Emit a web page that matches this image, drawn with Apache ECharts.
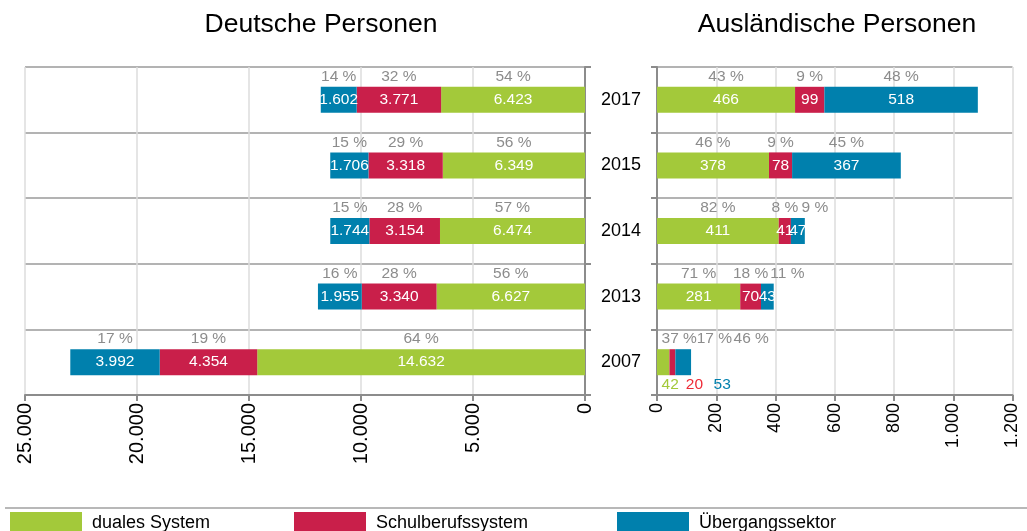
<!DOCTYPE html>
<html>
<head>
<meta charset="utf-8">
<script src="https://cdn.jsdelivr.net/npm/echarts@6/dist/echarts.min.js"></script>
<style>
  html, body { margin: 0; padding: 0; background: #fff; }
  #chart { width: 1027px; height: 531px; }
</style>
</head>
<body>
<div id="chart"></div>
<script>
// Jahre (von oben nach unten)
const years = ['2017', '2015', '2014', '2013', '2007'];

// Deutsche Personen: absolute Werte
const deDual = [6423, 6349, 6474, 6627, 14632];
const deSchul = [3771, 3318, 3154, 3340, 4354];
const deUeberg = [1602, 1706, 1744, 1955, 3992];
// Deutsche Personen: Anteile in Prozent
const dePctDual = [54, 56, 57, 56, 64];
const dePctSchul = [32, 29, 28, 28, 19];
const dePctUeberg = [14, 15, 15, 16, 17];

// Ausländische Personen: absolute Werte
const auDual = [466, 378, 411, 281, 42];
const auSchul = [99, 78, 41, 70, 20];
const auUeberg = [518, 367, 47, 43, 53];
// Ausländische Personen: Anteile in Prozent
const auPctDual = [43, 46, 82, 71, 37];
const auPctSchul = [9, 9, 8, 18, 17];
const auPctUeberg = [48, 45, 9, 11, 46];

// Achsen
const deAxisMax = 25000, deAxisStep = 5000;
const auAxisMax = 1200, auAxisStep = 200;

const sectorNames = ['duales System', 'Schulberufssystem', 'Übergangssektor'];
const sectorColors = ['#a3c93a', '#c91f4a', '#0080ad'];
const smallLabelColors = ['#a3c93a', '#ee2a36', '#0080ad'];

const FONT = '"Liberation Sans", Arial, sans-serif';

function fmt(n) {
  return String(n).replace(/\B(?=(\d{3})+(?!\d))/g, '.');
}

// Verschiebungen von Prozentangaben, die sonst überlappen würden
// (Sektor -> Zeile -> horizontale Verschiebung in px)
const pctNudge = {
  0: { 4: 16 },
  1: { 4: 42 },
  2: { 2: 17, 3: 20, 4: 68 }
};
// Wertangaben 2007 (Ausländische Personen) stehen unter dem Balken
const smallValueNudge = [7, 22, 39];

function valueSeries(panel, grid, k, values) {
  return {
    type: 'bar',
    name: sectorNames[k],
    xAxisIndex: grid, yAxisIndex: grid,
    stack: panel + 'v',
    barWidth: 26,
    barGap: '-100%',
    itemStyle: { color: sectorColors[k] },
    label: {
      show: true, position: 'inside', color: '#fff',
      fontSize: 15.5, fontFamily: FONT,
      formatter: p => fmt(p.value)
    },
    data: values.map((v, i) => {
      if (panel === 'au' && i === 4) {
        return {
          value: v,
          label: {
            position: 'bottom', distance: 2, color: smallLabelColors[k],
            offset: [smallValueNudge[k], 0]
          }
        };
      }
      return v;
    })
  };
}

function pctSeries(panel, grid, k, values, pcts) {
  return {
    type: 'bar',
    name: 'Anteil ' + sectorNames[k],
    xAxisIndex: grid, yAxisIndex: grid,
    stack: panel + 'p',
    barWidth: 26,
    barGap: '-100%',
    silent: true,
    itemStyle: { color: 'rgba(0,0,0,0)' },
    label: {
      show: true, position: 'top', distance: 2, color: '#8c8c8c',
      fontSize: 15.5, fontFamily: FONT,
      formatter: p => pcts[p.dataIndex] + ' %'
    },
    data: values.map((v, i) => {
      const nudge = panel === 'au' && pctNudge[k][i];
      if (nudge) return { value: v, label: { offset: [nudge, 0] } };
      return v;
    })
  };
}

const gridLine = { show: true, lineStyle: { color: '#dcdcdc', width: 1.5 } };
const rowLine = { show: true, lineStyle: { color: '#9a9a9a', width: 1.5 } };
const axisLine = { show: true, lineStyle: { color: '#8c8c8c', width: 2 } };
const axisTick = { show: true, length: 6, lineStyle: { color: '#8c8c8c', width: 2 } };

const option = {
  animation: false,
  backgroundColor: '#fff',
  textStyle: { fontFamily: FONT },
  title: [
    { text: 'Deutsche Personen', left: 316, top: 6, textAlign: 'center',
      textStyle: { fontSize: 26.5, fontWeight: 'normal', color: '#000', fontFamily: FONT } },
    { text: 'Ausländische Personen', left: 832, top: 6, textAlign: 'center',
      textStyle: { fontSize: 26.5, fontWeight: 'normal', color: '#000', fontFamily: FONT } }
  ],
  grid: [
    { left: 25, top: 67, width: 560, height: 328, containLabel: false },
    { left: 657, top: 67, width: 355.5, height: 328, containLabel: false }
  ],
  xAxis: [
    {
      gridIndex: 0, type: 'value', inverse: true, min: 0, max: deAxisMax, interval: deAxisStep,
      axisLine: axisLine, axisTick: axisTick, splitLine: gridLine,
      axisLabel: { rotate: 90, margin: 8, color: '#000', fontSize: 20, fontFamily: FONT, formatter: v => fmt(v) }
    },
    {
      gridIndex: 1, type: 'value', min: 0, max: auAxisMax, interval: auAxisStep,
      axisLine: axisLine, axisTick: axisTick, splitLine: gridLine,
      axisLabel: { rotate: 90, margin: 8, color: '#000', fontSize: 18, fontFamily: FONT, formatter: v => fmt(v) }
    }
  ],
  yAxis: [
    {
      gridIndex: 0, type: 'category', data: years, inverse: true, position: 'right',
      axisLine: axisLine, axisTick: axisTick, splitLine: rowLine,
      axisLabel: { show: false }
    },
    {
      gridIndex: 1, type: 'category', data: years, inverse: true, position: 'left',
      axisLine: axisLine, axisTick: axisTick, splitLine: rowLine,
      axisLabel: { show: true, margin: 16, color: '#000', fontSize: 18, fontFamily: FONT }
    }
  ],
  legend: sectorNames.map((n, k) => ({
    data: [n],
    left: [10, 294, 617][k],
    top: 512,
    padding: 0,
    itemWidth: 72, itemHeight: 22, itemGap: 0,
    icon: 'rect',
    selectedMode: false,
    textStyle: { fontSize: 18, color: '#000', fontFamily: FONT, padding: [0, 0, 0, 5] }
  })),
  graphic: [
    { type: 'line', shape: { x1: 5, y1: 508, x2: 1027, y2: 508 },
      style: { stroke: '#b8b8b8', lineWidth: 2 }, silent: true }
  ],
  series: [
    valueSeries('de', 0, 0, deDual),
    valueSeries('de', 0, 1, deSchul),
    valueSeries('de', 0, 2, deUeberg),
    pctSeries('de', 0, 0, deDual, dePctDual),
    pctSeries('de', 0, 1, deSchul, dePctSchul),
    pctSeries('de', 0, 2, deUeberg, dePctUeberg),
    valueSeries('au', 1, 0, auDual),
    valueSeries('au', 1, 1, auSchul),
    valueSeries('au', 1, 2, auUeberg),
    pctSeries('au', 1, 0, auDual, auPctDual),
    pctSeries('au', 1, 1, auSchul, auPctSchul),
    pctSeries('au', 1, 2, auUeberg, auPctUeberg)
  ]
};

const chart = echarts.init(document.getElementById('chart'), null, { renderer: 'canvas' });
chart.setOption(option);
</script>
</body>
</html>
